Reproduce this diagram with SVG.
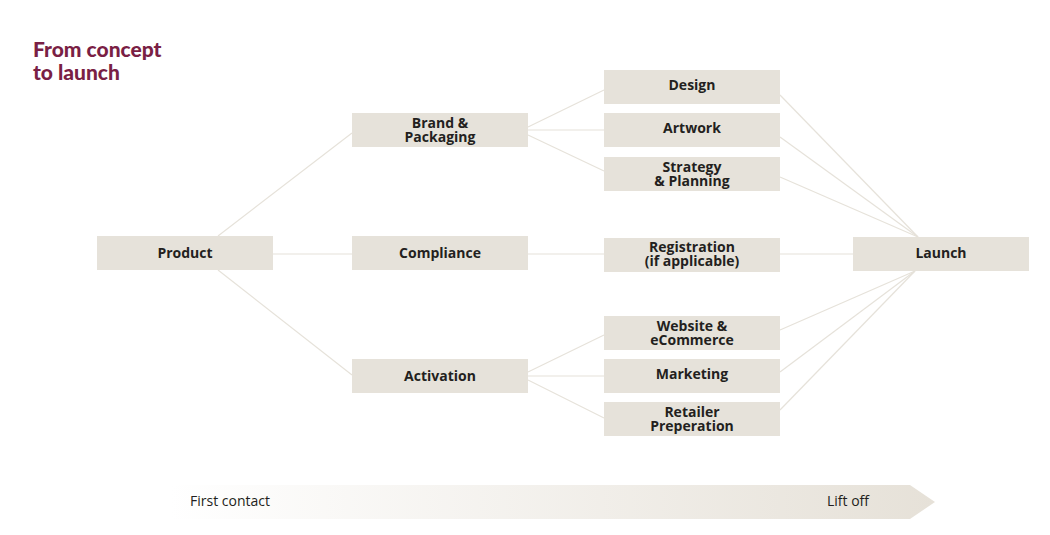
<svg xmlns="http://www.w3.org/2000/svg" width="1050" height="535" viewBox="0 0 1050 535">
<style>
.n{fill:#e6e2da}
.t{font-family:"Open Sans",sans-serif;font-weight:bold;font-size:14px;fill:#231f20;text-anchor:middle}
.c line{stroke:#e6e2da;stroke-width:1.2}
.l{font-family:"Open Sans",sans-serif;font-size:14px;fill:#231f20}
.h{font-family:Lato,sans-serif;font-weight:900;font-size:21px;fill:#7a1f45}
</style>
<defs><linearGradient id="g" x1="0" x2="1"><stop offset="0" stop-color="#fff"/><stop offset="1" stop-color="#e6e1d8"/></linearGradient></defs>
<rect width="1050" height="535" fill="#fff"/>
<text class="h" x="33" y="57">From concept</text>
<text class="h" x="33" y="80">to launch</text>
<g class="c" id="connectors">
<line x1="218" y1="236" x2="352" y2="133"/>
<line x1="218" y1="270" x2="352" y2="375"/>
<line x1="273" y1="254" x2="352" y2="254"/>
<line x1="528" y1="254" x2="604" y2="254"/>
<line x1="780" y1="254" x2="853" y2="254"/>
<line x1="528" y1="127" x2="604" y2="90"/>
<line x1="528" y1="130" x2="604" y2="130"/>
<line x1="528" y1="135" x2="604" y2="171"/>
<line x1="528" y1="372" x2="604" y2="335"/>
<line x1="528" y1="376" x2="604" y2="376"/>
<line x1="528" y1="380" x2="604" y2="418"/>
<line x1="780" y1="95" x2="918" y2="237"/>
<line x1="780" y1="137" x2="918" y2="237"/>
<line x1="780" y1="177" x2="918" y2="237"/>
<line x1="780" y1="330" x2="915" y2="271"/>
<line x1="780" y1="372" x2="915" y2="271"/>
<line x1="780" y1="410" x2="915" y2="271"/>
</g>
<g id="product"><rect class="n" x="97" y="236" width="176" height="34"/><text class="t" x="185" y="258">Product</text></g>
<g id="brand"><rect class="n" x="352" y="113" width="176" height="34"/><text class="t" x="440" y="127.5">Brand &amp;</text><text class="t" x="440" y="141.5">Packaging</text></g>
<g id="compliance"><rect class="n" x="352" y="236" width="176" height="34"/><text class="t" x="440" y="258">Compliance</text></g>
<g id="activation"><rect class="n" x="352" y="359" width="176" height="34"/><text class="t" x="440" y="381">Activation</text></g>
<g id="design"><rect class="n" x="604" y="70" width="176" height="34"/><text class="t" x="692" y="90">Design</text></g>
<g id="artwork"><rect class="n" x="604" y="113" width="176" height="34"/><text class="t" x="692" y="133">Artwork</text></g>
<g id="strategy"><rect class="n" x="604" y="157" width="176" height="34"/><text class="t" x="692" y="171.5">Strategy</text><text class="t" x="692" y="185.5">&amp; Planning</text></g>
<g id="registration"><rect class="n" x="604" y="238" width="176" height="34"/><text class="t" x="692" y="252">Registration</text><text class="t" x="692" y="266">(if applicable)</text></g>
<g id="website"><rect class="n" x="604" y="316" width="176" height="34"/><text class="t" x="692" y="330.5">Website &amp;</text><text class="t" x="692" y="344.5">eCommerce</text></g>
<g id="marketing"><rect class="n" x="604" y="359" width="176" height="34"/><text class="t" x="692" y="379">Marketing</text></g>
<g id="retailer"><rect class="n" x="604" y="402" width="176" height="34"/><text class="t" x="692" y="416.5">Retailer</text><text class="t" x="692" y="430.5">Preperation</text></g>
<g id="launch"><rect class="n" x="853" y="237" width="176" height="34"/><text class="t" x="941" y="258">Launch</text></g>
<g id="timeline"><polygon points="170,485 910,485 935,502 910,519 170,519" fill="url(#g)"/>
<text class="l" x="190" y="506">First contact</text><text class="l" x="827" y="506">Lift off</text></g>
</svg>
